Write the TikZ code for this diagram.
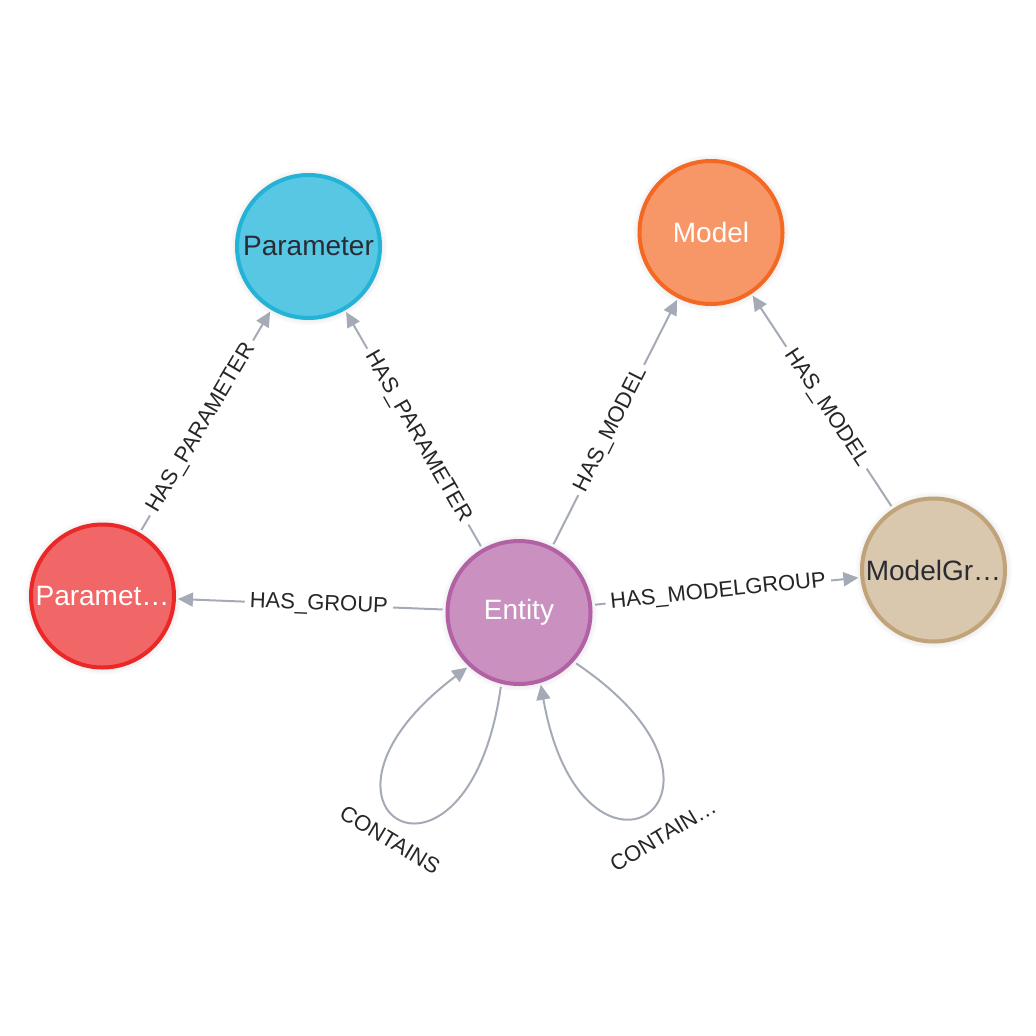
\documentclass[tikz,border=0pt]{standalone}
\usepackage{fontspec}
\setmainfont{Liberation Sans}
\usetikzlibrary{arrows.meta,shadows}

\definecolor{edgegray}{HTML}{A5ABB6}
\definecolor{darktext}{HTML}{2A2C34}
\definecolor{paramfill}{HTML}{57C7E3}   % Parameter
\definecolor{paramdraw}{HTML}{23B3D7}
\definecolor{modelfill}{HTML}{F79767}   % Model
\definecolor{modeldraw}{HTML}{F36924}
\definecolor{pgroupfill}{HTML}{F16667}  % ParameterGroup
\definecolor{pgroupdraw}{HTML}{EB2728}
\definecolor{entityfill}{HTML}{C990C0}  % Entity
\definecolor{entitydraw}{HTML}{B261A5}
\definecolor{mgroupfill}{HTML}{D9C8AE}  % ModelGroup
\definecolor{mgroupdraw}{HTML}{C0A378}

\begin{document}
\begin{tikzpicture}[x=1pt,y=1pt,
    gnode/.style={circle,minimum size=143pt,inner sep=0pt,line width=4pt,outer sep=2pt,
                  font=\fontsize{28}{30}\selectfont,
                  circular drop shadow={shadow xshift=0pt,shadow yshift=0pt,shadow scale=1.1,opacity=0.25}},
    rel/.style={-{Triangle[length=15pt,width=14pt]},line width=2pt,edgegray,
                shorten <=3pt,shorten >=2pt},
    rlabel/.style={fill=white,inner sep=5pt,text=black!85,
                   font=\fontsize{22}{24}\selectfont,sloped,pos=0.47},
    looplabel/.style={text=black!85,font=\fontsize{22}{24}\selectfont}]

    \fill[white] (0,0) rectangle (1036,-1036); %背景
    \useasboundingbox (0,0) rectangle (1036,-1036);

    % ノード
    \node[gnode,fill=paramfill,draw=paramdraw,text=darktext] (param) at (308.5,-246.5) {Parameter};
    \node[gnode,fill=modelfill,draw=modeldraw,text=white] (model) at (711,-232.5) {Model};
    \node[gnode,fill=pgroupfill,draw=pgroupdraw,text=white] (pgroup) at (102.5,-596) {Paramet…};
    \node[gnode,fill=entityfill,draw=entitydraw,text=white] (entity) at (519,-612.5) {Entity};
    \node[gnode,fill=mgroupfill,draw=mgroupdraw,text=darktext] (mgroup) at (933.5,-570) {ModelGr…};

    % リレーション
    \draw[rel] (pgroup) -- node[rlabel] (lblpp) {HAS\_PARAMETER} (param);
    \draw[rel] (entity) -- node[rlabel] (lblep) {HAS\_PARAMETER} (param);
    \draw[rel] (entity) -- node[rlabel] (lblem) {HAS\_MODEL} (model);
    \draw[rel] (mgroup) -- node[rlabel] (lblmm) {HAS\_MODEL} (model);
    \draw[rel] (entity) -- node[rlabel] (lblpg) {HAS\_GROUP} (pgroup);
    \draw[rel] (entity) -- node[rlabel] (lblmg) {HAS\_MODELGROUP} (mgroup);

    % 自己ループ
    \draw[rel] (entity.-104) .. controls +(-98:240) and +(-143:240) .. (entity.-133);
    \draw[rel] (entity.-42) .. controls +(-34:240) and +(-80:240) .. (entity.-73);
    \node[looplabel,rotate=-31] (lblc1) at (390,-840) {CONTAINS};
    \node[looplabel,rotate=31] (lblc2) at (663,-835) {CONTAIN…};

\end{tikzpicture}
\end{document}
